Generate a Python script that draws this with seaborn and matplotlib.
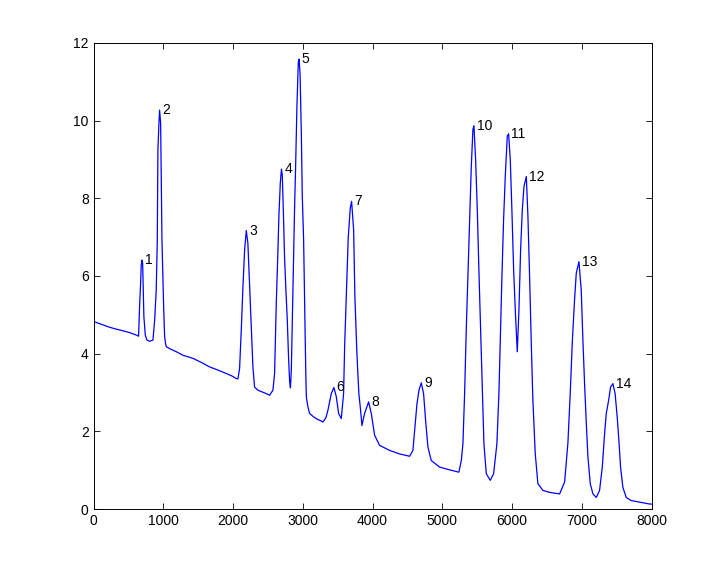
import matplotlib
matplotlib.use("Agg")
import matplotlib.pyplot as plt
import seaborn as sns
import pandas as pd

# signal, (x, y) samples along the trace
signal_x = [0, 14, 120, 229, 330, 420, 520, 612, 645, 659, 674, 683, 693, 703, 712, 721, 741, 765, 803, 851,
            875, 898, 913, 922, 937, 946, 961, 970, 980, 1004, 1018, 1032, 1042, 1090, 1186, 1280, 1424, 1550,
            1663, 1780, 1903, 1990, 2046, 2069, 2093, 2117, 2141, 2165, 2189, 2212, 2237, 2261, 2284, 2308,
            2356, 2452, 2523, 2571, 2595, 2619, 2642, 2657, 2677, 2693, 2705, 2720, 2738, 2758, 2777, 2795,
            2810, 2822, 2835, 2849, 2865, 2882, 2896, 2915, 2935, 2946, 2960, 2978, 2992, 3011, 3025, 3035,
            3044, 3050, 3070, 3097, 3150, 3200, 3250, 3288, 3330, 3359, 3407, 3445, 3480, 3513, 3551, 3584,
            3599, 3623, 3651, 3680, 3699, 3728, 3746, 3775, 3803, 3828, 3847, 3885, 3943, 3981, 4029, 4100,
            4244, 4387, 4530, 4578, 4612, 4636, 4665, 4698, 4731, 4760, 4793, 4841, 4961, 5104, 5237, 5272,
            5295, 5319, 5344, 5366, 5391, 5415, 5438, 5453, 5477, 5501, 5524, 5548, 5573, 5596, 5630, 5687,
            5735, 5782, 5811, 5835, 5854, 5878, 5902, 5931, 5950, 5974, 5997, 6022, 6050, 6074, 6098, 6122,
            6146, 6170, 6204, 6227, 6251, 6275, 6298, 6332, 6370, 6442, 6538, 6681, 6753, 6800, 6834, 6863,
            6896, 6920, 6958, 6991, 7015, 7039, 7064, 7087, 7121, 7159, 7207, 7254, 7293, 7326, 7350, 7384,
            7412, 7445, 7477, 7507, 7531, 7555, 7588, 7636, 7707, 7826, 7971, 8000]
signal_y = [4.80, 4.82, 4.75, 4.68, 4.63, 4.59, 4.54, 4.48, 4.45, 5.21, 5.81, 6.28, 6.41, 6.33, 5.64, 4.95, 4.48,
            4.35, 4.32, 4.35, 4.86, 5.64, 6.93, 9.25, 9.94, 10.27, 9.94, 8.39, 6.93, 5.21, 4.45, 4.26, 4.18,
            4.13, 4.05, 3.96, 3.88, 3.77, 3.66, 3.58, 3.49, 3.42, 3.36, 3.35, 3.62, 4.60, 5.72, 6.67, 7.17,
            6.84, 5.72, 4.60, 3.66, 3.14, 3.06, 2.99, 2.93, 3.06, 3.50, 5.30, 6.60, 7.57, 8.40, 8.75, 8.60,
            7.70, 6.46, 5.60, 4.86, 3.90, 3.30, 3.12, 3.60, 4.86, 6.40, 7.80, 8.80, 10.37, 11.50, 11.58, 11.20,
            9.70, 8.05, 6.93, 5.47, 4.27, 3.32, 2.89, 2.65, 2.46, 2.38, 2.32, 2.28, 2.24, 2.35, 2.54, 2.97,
            3.13, 2.89, 2.46, 2.33, 2.97, 4.18, 5.47, 7.00, 7.75, 7.92, 7.19, 5.47, 4.00, 2.97, 2.54, 2.15,
            2.46, 2.76, 2.46, 1.90, 1.64, 1.51, 1.42, 1.36, 1.51, 2.20, 2.71, 3.06, 3.25, 2.97, 2.28, 1.60,
            1.25, 1.08, 1.01, 0.95, 1.25, 1.68, 2.97, 4.69, 5.98, 7.45, 8.82, 9.77, 9.87, 8.99, 7.70, 6.15,
            4.69, 3.14, 1.68, 0.91, 0.74, 0.91, 1.68, 2.97, 4.69, 5.98, 7.45, 8.56, 9.60, 9.66, 8.99, 7.70,
            6.15, 4.95, 4.05, 5.12, 6.67, 7.70, 8.30, 8.56, 7.53, 5.98, 4.26, 2.80, 1.42, 0.65, 0.48, 0.43,
            0.39, 0.70, 1.70, 3.00, 4.30, 5.40, 6.07, 6.37, 5.64, 4.35, 3.23, 2.20, 1.34, 0.65, 0.39, 0.30,
            0.48, 1.08, 1.94, 2.46, 2.80, 3.14, 3.23, 2.97, 2.37, 1.77, 1.08, 0.56, 0.30, 0.22, 0.18, 0.13,
            0.13]

# peak labels
peak_labels = [str(i) for i in range(1, 15)]
peak_x = [693, 946, 2189, 2693, 2946, 3445, 3699, 3943, 4698, 5453, 5950, 6204, 6958, 7445]
peak_y = [6.41, 10.27, 7.17, 8.75, 11.58, 3.13, 7.92, 2.76, 3.25, 9.87, 9.66, 8.56, 6.37, 3.23]

x_ticks = list(range(0, 8001, 1000))
y_ticks = list(range(0, 13, 2))

sns.set_style("ticks")
plt.rcParams['font.family'] = ['Liberation Sans', 'DejaVu Sans']

df = pd.DataFrame({'x': signal_x, 'y': signal_y})

fig = plt.figure(figsize=(7.2, 5.72), dpi=100)
ax = fig.add_axes([0.13, 0.11, 0.775, 0.815])
sns.lineplot(data=df, x='x', y='y', ax=ax, color='blue', linewidth=0.9, sort=False, estimator=None)

for lab, px, py in zip(peak_labels, peak_x, peak_y):
    ax.annotate(lab, (px, py), xytext=(2, 0), textcoords='offset points',
                ha='left', va='center', fontsize=10, color='black')

ax.set_xlim(0, 8000)
ax.set_ylim(0, 12)
ax.set_xticks(x_ticks)
ax.set_yticks(y_ticks)
ax.set_xlabel('')
ax.set_ylabel('')
ax.tick_params(direction='in', length=4, width=0.6, top=True, right=True, labelsize=10, colors='black')
for sp in ax.spines.values():
    sp.set_visible(True)
    sp.set_linewidth(0.7)
    sp.set_color('black')

fig.savefig('out.png', dpi=100, facecolor='white')
